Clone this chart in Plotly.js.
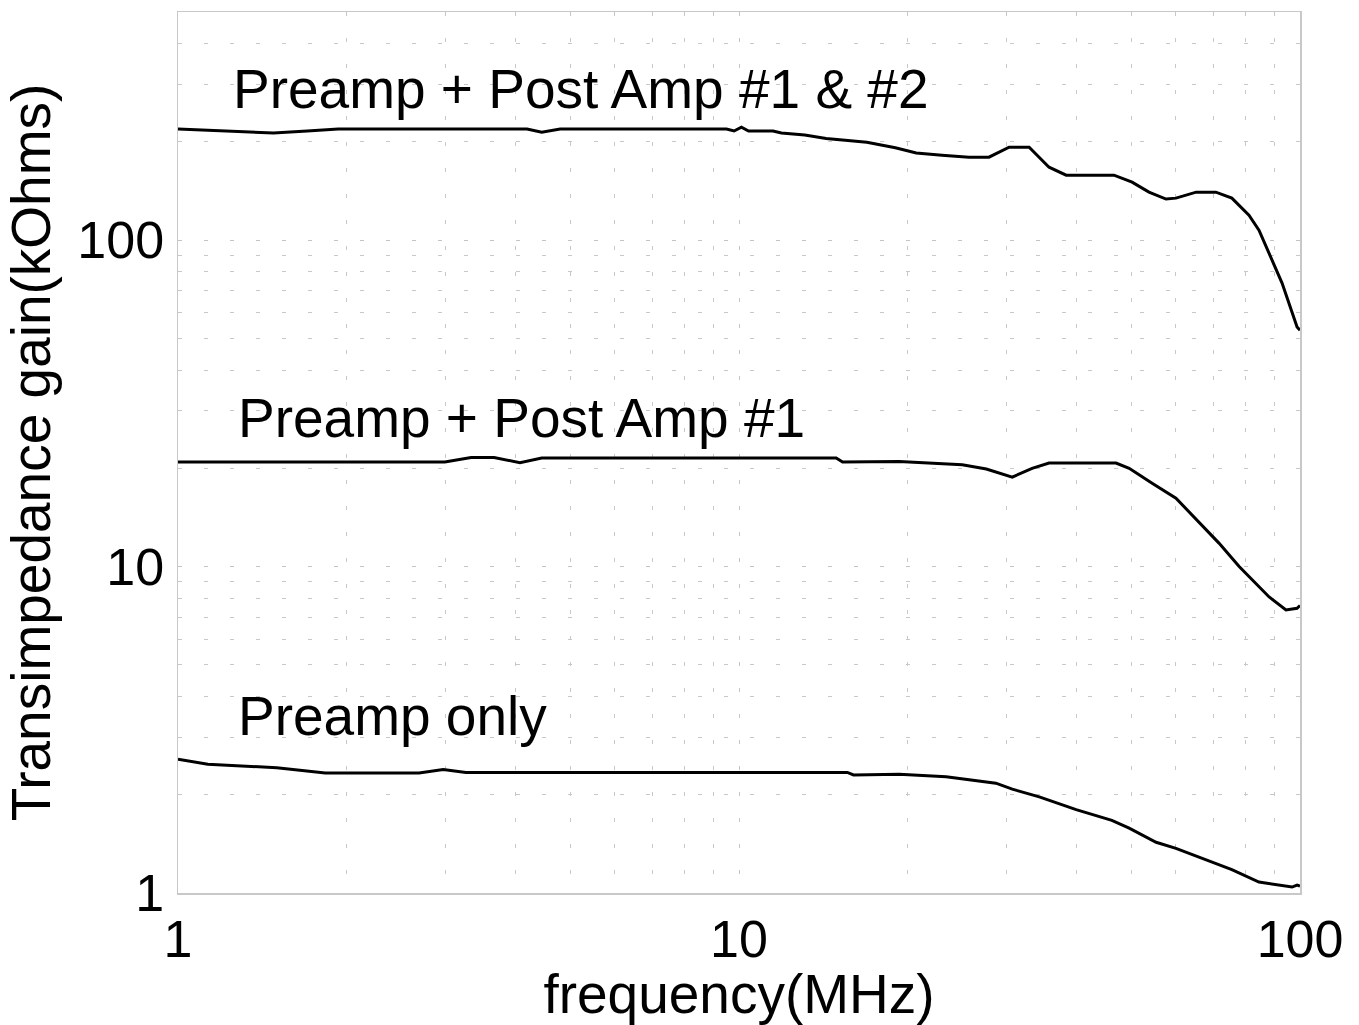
<!DOCTYPE html>
<html>
<head>
<meta charset="utf-8">
<script src="https://cdn.plot.ly/plotly-3.0.1.min.js"></script>
<style>html,body{margin:0;padding:0;background:#fff;}#chart{width:1359px;height:1025px;}</style>
</head>
<body>
<div id="chart"></div>
<script>
// frequency (MHz) and transimpedance gain (kOhms) for each configuration
const freqBoth = [1, 1.2, 1.48, 1.7, 1.93, 4.19, 4.45, 4.8, 9.5, 9.8, 10.1, 10.4, 11.5, 11.9, 13.1, 14.3, 15.6, 16.9, 19.0, 20.7, 23.0, 25.7, 27.9, 29.1, 30.3, 32.9, 35.7, 38.3, 46.6, 50.2, 53.8, 57.7, 60.1, 65.3, 70.8, 75.6, 81.1, 84.5, 88.1, 92.9, 98.8, 100];
const gainBoth = [219, 216, 213, 216, 219, 219, 214, 219, 219, 216, 222, 216, 216, 213, 210, 205, 202, 199.5, 192, 185, 182, 179.6, 179.6, 186, 192.7, 192.7, 167.3, 158.2, 158.2, 150.6, 140.3, 133.6, 134.5, 140.3, 140.3, 134.5, 119.3, 107.3, 91.3, 73.9, 54.2, 53];

const freqPost1 = [1, 2.99, 3.33, 3.66, 4.07, 4.45, 14.9, 15.3, 19.3, 21.8, 25.0, 27.6, 30.7, 33.3, 35.7, 47.0, 49.6, 54.5, 60.1, 71.7, 77.9, 88.1, 94.4, 98.8, 100];
const gainPost1 = [20.9, 20.9, 21.6, 21.6, 20.8, 21.5, 21.5, 20.9, 21.0, 20.8, 20.5, 19.9, 18.8, 20.0, 20.75, 20.75, 20.0, 18.0, 16.2, 11.8, 10.0, 8.07, 7.36, 7.45, 7.6];

const freqPre = [1, 1.13, 1.5, 1.83, 2.69, 2.97, 3.26, 15.6, 16.0, 19.3, 23.4, 25.7, 28.7, 30.7, 34.3, 39.9, 46.2, 49.6, 55.4, 60.1, 69.7, 75.6, 84.5, 90.6, 96.8, 98.8, 100];
const gainPre = [2.57, 2.48, 2.42, 2.33, 2.33, 2.39, 2.34, 2.34, 2.30, 2.31, 2.27, 2.22, 2.17, 2.08, 1.97, 1.80, 1.67, 1.58, 1.43, 1.37, 1.24, 1.18, 1.08, 1.058, 1.043, 1.058, 1.05];

const seriesLabels = ["Preamp + Post Amp #1 & #2", "Preamp + Post Amp #1", "Preamp only"];
const labelFreq = [1.243, 1.269, 1.269];
const labelGain = [290, 28.5, 3.48];

const xTitle = "frequency(MHz)";
const yTitle = "Transimpedance gain(kOhms)";

const FONT = "Liberation Sans, Arial, Helvetica, sans-serif";
const lineStyle = {color: "#000", width: 3, shape: "linear"};

const traces = [
  {x: freqBoth, y: gainBoth, name: seriesLabels[0]},
  {x: freqPost1, y: gainPost1, name: seriesLabels[1]},
  {x: freqPre, y: gainPre, name: seriesLabels[2]}
].map(t => Object.assign(t, {type: "scatter", mode: "lines", line: lineStyle, hoverinfo: "x+y"}));

const gridCommon = {
  showgrid: true,
  gridcolor: "#c4c4c4",
  gridwidth: 1,
  griddash: "4px,22px",
  showline: true,
  linecolor: "#c8c8c8",
  linewidth: 1.5,
  mirror: true,
  ticks: "",
  zeroline: false,
  tickfont: {family: FONT, size: 52, color: "#000"},
  minor: {dtick: "D1", showgrid: true, gridcolor: "#c8c8c8", gridwidth: 1, griddash: "4px,22px", ticks: ""}
};

const layout = {
  width: 1359,
  height: 1025,
  margin: {l: 178, r: 59, t: 12, b: 132},
  paper_bgcolor: "#fff",
  plot_bgcolor: "#fff",
  showlegend: false,
  font: {family: FONT, color: "#000"},
  xaxis: Object.assign({}, gridCommon, {
    type: "log",
    range: [0, 2],
    dtick: 1,
    title: {text: xTitle, font: {family: FONT, size: 55, color: "#000"}, standoff: 0}
  }),
  yaxis: Object.assign({}, gridCommon, {
    type: "log",
    range: [0, Math.log10(500)],
    dtick: 1,
    ticklabelstandoff: 2,
    title: {text: yTitle, font: {family: FONT, size: 55, color: "#000"}, standoff: 12}
  }),
  annotations: seriesLabels.map((s, i) => ({
    x: Math.log10(labelFreq[i]),
    y: Math.log10(labelGain[i]),
    xref: "x", yref: "y",
    text: s,
    showarrow: false,
    xanchor: "left",
    yanchor: "middle",
    font: {family: FONT, size: 55, color: "#000"}
  }))
};

Plotly.newPlot("chart", traces, layout, {displayModeBar: false, staticPlot: true});
</script>
</body>
</html>
